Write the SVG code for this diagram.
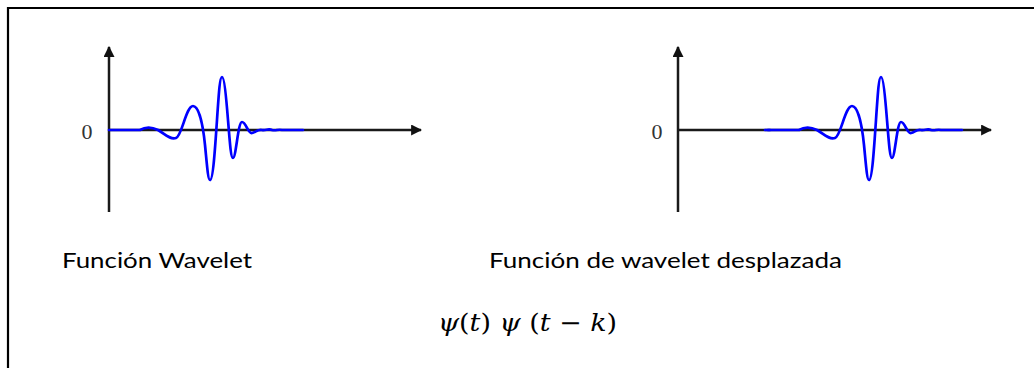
<svg xmlns="http://www.w3.org/2000/svg" width="1034" height="368" viewBox="0 0 1034 368">
<style>
.axis{stroke:#1a1a1a;stroke-width:2.5;fill:none}
.wave{stroke:#0000ff;stroke-width:2.7;fill:none;stroke-linejoin:round;stroke-linecap:round}
.zero{font-family:"Liberation Serif",serif;font-size:22px;fill:#333}
.lbl{font-family:Lato,"Open Sans",sans-serif;font-size:22px;fill:#000}
.math{font-family:"DejaVu Serif","Liberation Serif",serif;font-size:24px;fill:#000}
</style>
<defs>
<marker id="ah" viewBox="0 0 10 10" refX="9" refY="5" markerWidth="4.4" markerHeight="4.4" orient="auto" markerUnits="strokeWidth">
<path d="M0,0 L10,5 L0,10 Z" fill="#111"/>
</marker>
<path id="wv" d="M109,130 H140 C145,127 152,127 158,130 C165,134 170,140 176,138 C182,136 186,106 193,106 C199,106 203,125 205,145 C207,165 208,180 210,180 C213,180 215,150 217,120 C219,90 220,77 222,77 C224,77 226,95 228,120 C230,145 231,158 233,158 C236,158 238,122 242,122 C246,122 248,134 252,133 C256,132 258,129 262,130 C266,131 268,128 272,130 C276,131 278,129 282,130 H303"/>
</defs>
<path d="M8,368 V8 H1034" fill="none" stroke="#000" stroke-width="2.2"/>
<g id="wavelet">
<line class="axis" x1="109" y1="212" x2="109" y2="47" marker-end="url(#ah)"/>
<line class="axis" x1="109" y1="130" x2="421" y2="130" marker-end="url(#ah)"/>
<use href="#wv" class="wave"/>
<text class="zero" x="87" y="139" text-anchor="middle">0</text>
</g>
<g id="wavelet-shifted">
<line class="axis" x1="678" y1="212" x2="678" y2="47" marker-end="url(#ah)"/>
<line class="axis" x1="678" y1="130" x2="991" y2="130" marker-end="url(#ah)"/>
<use href="#wv" class="wave" transform="translate(659,0)"/>
<line class="wave" x1="765" y1="130" x2="770" y2="130"/>
<text class="zero" x="657" y="139" text-anchor="middle">0</text>
</g>
<text class="lbl" x="62" y="268" textLength="190" lengthAdjust="spacingAndGlyphs">Función Wavelet</text>
<text class="lbl" x="489" y="268" textLength="353" lengthAdjust="spacingAndGlyphs">Función de wavelet desplazada</text>
<text class="math" x="438" y="331" textLength="179" lengthAdjust="spacingAndGlyphs"><tspan font-style="italic">ψ</tspan>(<tspan font-style="italic">t</tspan>) <tspan font-style="italic">ψ</tspan> (<tspan font-style="italic">t</tspan> − <tspan font-style="italic">k</tspan>)</text>
</svg>
